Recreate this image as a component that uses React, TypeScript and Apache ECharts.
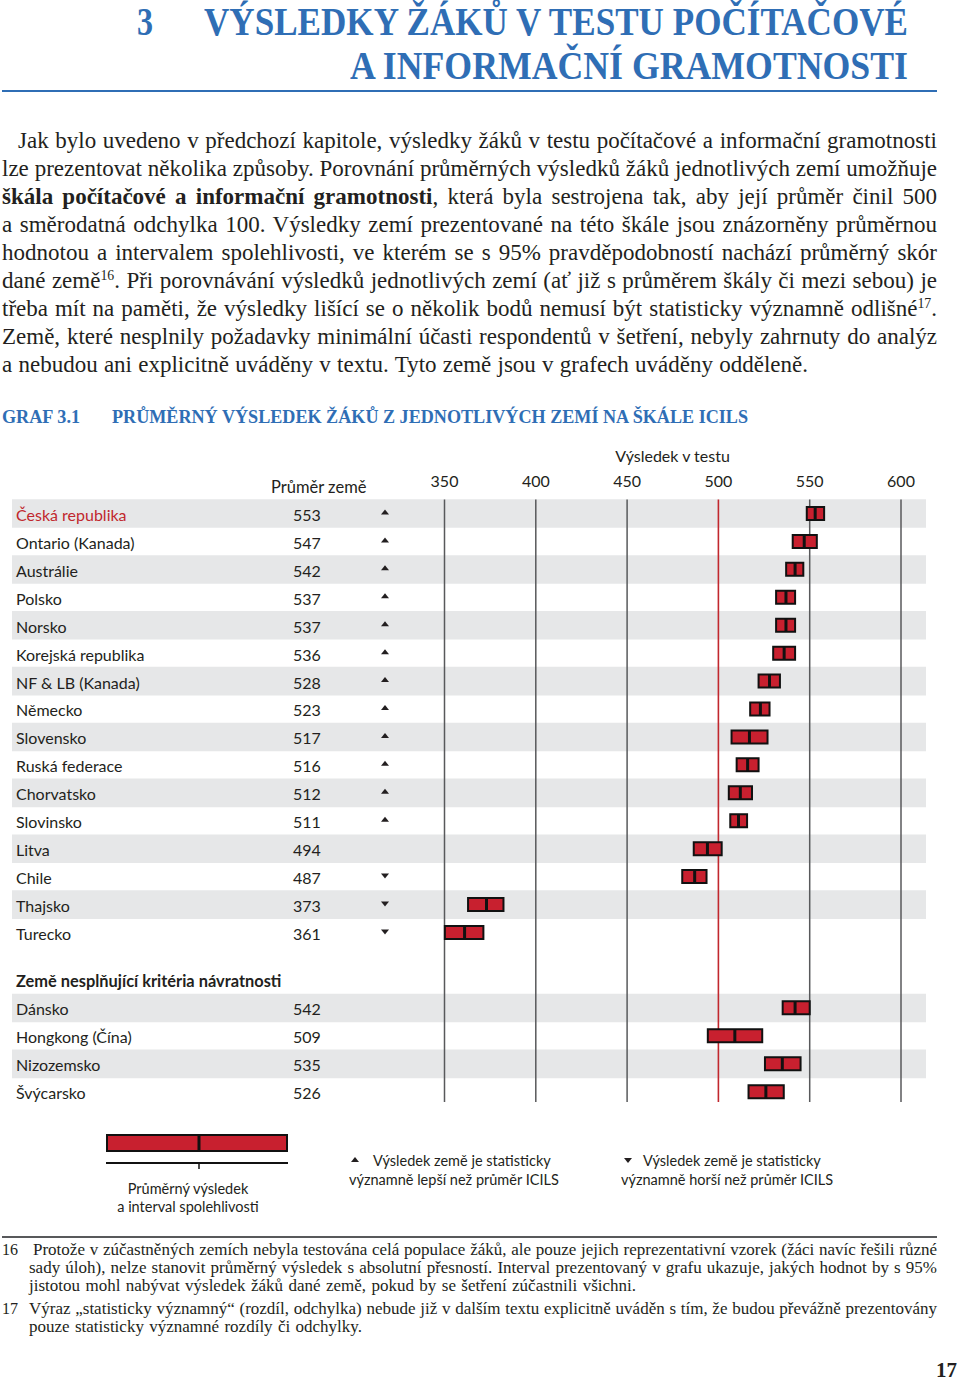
import React, { useEffect, useLayoutEffect, useRef } from "react";
import * as echarts from "echarts";

// ---------- data ----------
const countries = [
  "Česká republika", "Ontario (Kanada)", "Austrálie", "Polsko", "Norsko",
  "Korejská republika", "NF & LB (Kanada)", "Německo", "Slovensko", "Ruská federace",
  "Chorvatsko", "Slovinsko", "Litva", "Chile", "Thajsko", "Turecko",
];
const countryMeans = [553, 547, 542, 537, 537, 536, 528, 523, 517, 516, 512, 511, 494, 487, 373, 361];
const ciLower = [548.4, 540.7, 537.1, 531.6, 531.6, 530.0, 522.0, 517.4, 507.2, 510.0, 505.7, 506.5, 486.5, 480.2, 362.9, 350.2];
const ciUpper = [557.9, 553.9, 546.5, 542.0, 542.0, 542.0, 533.7, 528.0, 526.9, 522.0, 518.4, 515.7, 501.8, 493.5, 382.3, 371.3];
const significance = ["up", "up", "up", "up", "up", "up", "up", "up", "up", "up", "up", "up", "", "down", "down", "down"];

const extraCountries = ["Dánsko", "Hongkong (Čína)", "Nizozemsko", "Švýcarsko"];
const extraMeans = [542, 509, 535, 526];
const extraLower = [535.2, 494.2, 525.5, 516.5];
const extraUpper = [550.0, 524.0, 545.0, 535.8];

const scoreTicks = [350, 400, 450, 500, 550, 600];
const icilsAverage = 500;

// ---------- layout / style ----------
const EXTRA_START = 17.7; // row position of first "extra" country
const Y_MIN = -0.5;
const Y_MAX = 21.07;
const FONT = "Lato, 'Open Sans', sans-serif";
const SERIF = "'Liberation Serif', 'Times New Roman', serif";
const TEXT = "#231f20";
const RED = "#c8202f";
const RED_LINE = "#c1272d";
const BLUE = "#2f6eb5";
const BAND = "#e6e7e8";
const GRID = "#58595b";
const LS = 16; // label font size
const LG = 14.5; // legend font size

type Row = { name: string; mean: number; lo: number; hi: number; sig: string; pos: number; band: boolean; highlight: boolean };
const rows: Row[] = [
  ...countries.map((name, i) => ({
    name, mean: countryMeans[i], lo: ciLower[i], hi: ciUpper[i], sig: significance[i],
    pos: i, band: i % 2 === 0, highlight: i === 0,
  })),
  ...extraCountries.map((name, j) => ({
    name, mean: extraMeans[j], lo: extraLower[j], hi: extraUpper[j], sig: "",
    pos: EXTRA_START + j, band: j % 2 === 0, highlight: false,
  })),
];

function txt(x: number, y: number, text: string, size: number, align = "left", weight = "normal", fill = TEXT): any {
  return { type: "text", x, y, style: { text, fill, fontSize: size, fontWeight: weight, fontFamily: FONT, textAlign: align, textVerticalAlign: "middle" } };
}

function buildOption(): any {
  return {
    animation: false,
    grid: { left: 444.5, right: 59, top: 499.5, height: 602.5, containLabel: false },
    xAxis: {
      type: "value", min: 350, max: 600, interval: 50, position: "top",
      axisLine: { show: false }, axisTick: { show: false }, splitLine: { show: false },
      axisLabel: { fontSize: LS, color: TEXT, fontFamily: FONT, margin: 11 },
    },
    yAxis: { type: "value", inverse: true, min: Y_MIN, max: Y_MAX, show: false },
    graphic: [
      txt(672.5, 455, "Výsledek v testu", 16, "center"),
      txt(271, 487, "Průměr země", 16.5),
      txt(16, 980, "Země nesplňující kritéria návratnosti", 16.4, "left", "bold"),
      // legend: mean & CI
      { type: "rect", shape: { x: 107, y: 1135, width: 180, height: 16 }, style: { fill: RED, stroke: "#111", lineWidth: 2 } },
      { type: "line", shape: { x1: 199, y1: 1135, x2: 199, y2: 1151 }, style: { stroke: "#111", lineWidth: 3 } },
      { type: "line", shape: { x1: 106, y1: 1163, x2: 288, y2: 1163 }, style: { stroke: "#111", lineWidth: 2 } },
      { type: "line", shape: { x1: 199, y1: 1163, x2: 199, y2: 1169 }, style: { stroke: "#111", lineWidth: 1.5 } },
      txt(188, 1188, "Průměrný výsledek", LG, "center"),
      txt(188, 1206, "a interval spolehlivosti", LG, "center"),
      // legend: better
      { type: "polygon", shape: { points: [[351, 1162], [359, 1162], [355, 1157]] }, style: { fill: TEXT } },
      txt(373, 1160, "Výsledek země je statisticky", LG),
      txt(349, 1179, "významně lepší než průměr ICILS", LG),
      // legend: worse
      { type: "polygon", shape: { points: [[624, 1158], [632, 1158], [628, 1163]] }, style: { fill: TEXT } },
      txt(643, 1160, "Výsledek země je statisticky", LG),
      txt(621, 1179, "významně horší než průměr ICILS", LG),
    ],
    series: [
      {
        // alternating row bands
        type: "custom", name: "bands", silent: true, clip: false, z: 1,
        data: rows.filter((r) => r.band).map((r) => [350, r.pos]),
        encode: { x: 0, y: 1 },
        renderItem: (_p: any, api: any) => {
          const y = api.coord([350, api.value(1)])[1];
          return { type: "rect", shape: { x: 12, y: y - 14.2, width: 914, height: 28.6 }, style: { fill: BAND } };
        },
      },
      {
        // vertical score grid lines (500 in red)
        type: "custom", name: "grid", silent: true, clip: false, z: 2,
        data: scoreTicks.map((v) => [v, Y_MIN, Y_MAX]),
        encode: { x: 0, y: [1, 2] },
        renderItem: (_p: any, api: any) => {
          const v = api.value(0);
          const a = api.coord([v, api.value(1)]);
          const b = api.coord([v, api.value(2)]);
          const isAvg = v === icilsAverage;
          return {
            type: "line",
            shape: { x1: a[0], y1: a[1], x2: b[0], y2: b[1] },
            style: { stroke: isAvg ? RED_LINE : GRID, lineWidth: isAvg ? 1.6 : 1.5 },
          };
        },
      },
      {
        // confidence interval bars with mean marker
        type: "custom", name: "scores", clip: false, z: 3,
        data: rows.map((r) => [r.lo, r.hi, r.mean, r.pos]),
        encode: { x: [0, 1, 2], y: 3 },
        renderItem: (_p: any, api: any) => {
          const yv = api.value(3);
          const a = api.coord([api.value(0), yv]);
          const b = api.coord([api.value(1), yv]);
          const m = api.coord([api.value(2), yv]);
          const h = 13;
          return {
            type: "group",
            children: [
              { type: "rect", shape: { x: a[0], y: a[1] - h / 2, width: b[0] - a[0], height: h }, style: { fill: RED, stroke: "#111", lineWidth: 2 } },
              { type: "line", shape: { x1: m[0], y1: a[1] - h / 2, x2: m[0], y2: a[1] + h / 2 }, style: { stroke: "#111", lineWidth: 3 } },
            ],
          };
        },
      },
      {
        // row labels: country, mean, significance arrow
        type: "custom", name: "labels", silent: true, clip: false, z: 4,
        data: rows.map((r, i) => [350, r.pos, i]),
        encode: { x: 0, y: 1 },
        renderItem: (params: any, api: any) => {
          const r = rows[params.dataIndex];
          const y = api.coord([350, api.value(1)])[1];
          const children: any[] = [
            txt(16, y + 1, r.name, LS, "left", "normal", r.highlight ? RED_LINE : TEXT),
            txt(293, y + 1, String(r.mean), LS),
          ];
          if (r.sig === "up") {
            children.push({ type: "polygon", shape: { points: [[381, y + 1], [389, y + 1], [385, y - 4]] }, style: { fill: TEXT } });
          } else if (r.sig === "down") {
            children.push({ type: "polygon", shape: { points: [[381, y - 3], [389, y - 3], [385, y + 2]] }, style: { fill: TEXT } });
          }
          return { type: "group", children };
        },
      },
    ],
  };
}

// ---------- HTML text helpers ----------
type LineProps = {
  x: number; y: number; w: number; size: number; lh: number; font?: string;
  weight?: any; color?: string; mode?: "justify" | "fit" | "none"; children: React.ReactNode;
};
function Line({ x, y, w, size, lh, font = SERIF, weight = "normal", color = TEXT, mode = "justify", children }: LineProps) {
  return (
    <div style={{ position: "absolute", left: x, top: y - lh / 2, height: lh, lineHeight: lh + "px", fontSize: size, fontFamily: font, fontWeight: weight, color, whiteSpace: "nowrap" }}>
      <span data-mode={mode} data-w={w} style={{ display: "inline-block", transformOrigin: "0 50%" }}>{children}</span>
    </div>
  );
}

const sup: React.CSSProperties = { fontSize: "0.6em", lineHeight: 0, verticalAlign: "0.6em" };

export default function App() {
  const chartRef = useRef<HTMLDivElement>(null);
  const pageRef = useRef<HTMLDivElement>(null);

  useEffect(() => {
    if (!chartRef.current) return;
    const chart = echarts.init(chartRef.current, null, { renderer: "svg" });
    chart.setOption(buildOption());
    return () => chart.dispose();
  }, []);

  useLayoutEffect(() => {
    const apply = () => {
      const root = pageRef.current;
      if (!root) return;
      root.querySelectorAll<HTMLElement>("[data-mode]").forEach((el) => {
        const mode = el.dataset.mode;
        const W = Number(el.dataset.w);
        el.style.wordSpacing = "";
        el.style.transform = "";
        const w0 = el.getBoundingClientRect().width;
        if (!w0 || !W) return;
        if (mode === "justify") {
          const n = ((el.textContent || "").match(/ /g) || []).length;
          if (n > 0) el.style.wordSpacing = (W - w0) / n + "px";
        } else if (mode === "fit") {
          el.style.transform = `scaleX(${W / w0})`;
        }
      });
    };
    apply();
    if ((document as any).fonts && (document as any).fonts.ready) {
      (document as any).fonts.ready.then(apply);
    }
  }, []);

  const B = 23; // body font size
  const F = 17; // footnote font size

  return (
    <div ref={pageRef} style={{ position: "absolute", left: 0, top: 0, width: 960, height: 1381, overflow: "hidden", background: "#fff" }}>
      <div ref={chartRef} style={{ position: "absolute", left: 0, top: 0, width: 960, height: 1381 }} />

      {/* Chapter title */}
      <Line x={137} y={21.5} w={16} size={39} lh={38} weight="bold" color={BLUE} mode="fit">3</Line>
      <Line x={204} y={21.5} w={704} size={39} lh={38} weight="bold" color={BLUE} mode="fit">VÝSLEDKY ŽÁKŮ V TESTU POČÍTAČOVÉ</Line>
      <Line x={350} y={65.5} w={558} size={39} lh={38} weight="bold" color={BLUE} mode="fit">A INFORMAČNÍ GRAMOTNOSTI</Line>
      <div style={{ position: "absolute", left: 2, top: 90, width: 935, height: 2, background: BLUE }} />

      {/* Body paragraph */}
      <Line x={18} y={141} w={919} size={B} lh={28}>Jak bylo uvedeno v předchozí kapitole, výsledky žáků v testu počítačové a informační gramotnosti</Line>
      <Line x={2} y={169} w={935} size={B} lh={28}>lze prezentovat několika způsoby. Porovnání průměrných výsledků žáků jednotlivých zemí umožňuje</Line>
      <Line x={2} y={197} w={935} size={B} lh={28}><b>škála počítačové a informační gramotnosti</b>, která byla sestrojena tak, aby její průměr činil 500</Line>
      <Line x={2} y={225} w={935} size={B} lh={28}>a směrodatná odchylka 100. Výsledky zemí prezentované na této škále jsou znázorněny průměrnou</Line>
      <Line x={2} y={253} w={935} size={B} lh={28}>hodnotou a intervalem spolehlivosti, ve kterém se s 95% pravděpodobností nachází průměrný skór</Line>
      <Line x={2} y={281} w={935} size={B} lh={28}>dané země<span style={sup}>16</span>. Při porovnávání výsledků jednotlivých zemí (ať již s průměrem škály či mezi sebou) je</Line>
      <Line x={2} y={309} w={935} size={B} lh={28}>třeba mít na paměti, že výsledky lišící se o několik bodů nemusí být statisticky významně odlišné<span style={sup}>17</span>.</Line>
      <Line x={2} y={337} w={935} size={B} lh={28}>Země, které nesplnily požadavky minimální účasti respondentů v šetření, nebyly zahrnuty do analýz</Line>
      <Line x={2} y={365} w={806} size={B} lh={28}>a nebudou ani explicitně uváděny v textu. Tyto země jsou v grafech uváděny odděleně.</Line>

      {/* Figure caption */}
      <Line x={2} y={417} w={78} size={19} lh={24} weight="bold" color={BLUE} mode="fit">GRAF 3.1</Line>
      <Line x={112} y={417} w={636} size={19} lh={24} weight="bold" color={BLUE} mode="fit">PRŮMĚRNÝ VÝSLEDEK ŽÁKŮ Z JEDNOTLIVÝCH ZEMÍ NA ŠKÁLE ICILS</Line>

      {/* Footnotes */}
      <div style={{ position: "absolute", left: 2, top: 1236, width: 935, height: 2, background: GRID }} />
      <Line x={2} y={1250} w={16} size={F} lh={18} mode="fit">16</Line>
      <Line x={33} y={1250} w={904} size={F} lh={18}>Protože v zúčastněných zemích nebyla testována celá populace žáků, ale pouze jejich reprezentativní vzorek (žáci navíc řešili různé</Line>
      <Line x={29} y={1268} w={908} size={F} lh={18}>sady úloh), nelze stanovit průměrný výsledek s absolutní přesností. Interval prezentovaný v grafu ukazuje, jakých hodnot by s 95%</Line>
      <Line x={29} y={1286} w={607} size={F} lh={18}>jistotou mohl nabývat výsledek žáků dané země, pokud by se šetření zúčastnili všichni.</Line>
      <Line x={2} y={1309} w={16} size={F} lh={18} mode="fit">17</Line>
      <Line x={29} y={1309} w={908} size={F} lh={18}>Výraz „statisticky významný“ (rozdíl, odchylka) nebude již v dalším textu explicitně uváděn s tím, že budou převážně prezentovány</Line>
      <Line x={29} y={1327} w={333} size={F} lh={18}>pouze statisticky významné rozdíly či odchylky.</Line>

      {/* Page number */}
      <Line x={936} y={1370} w={21} size={21} lh={18} weight="bold" mode="fit">17</Line>
    </div>
  );
}
